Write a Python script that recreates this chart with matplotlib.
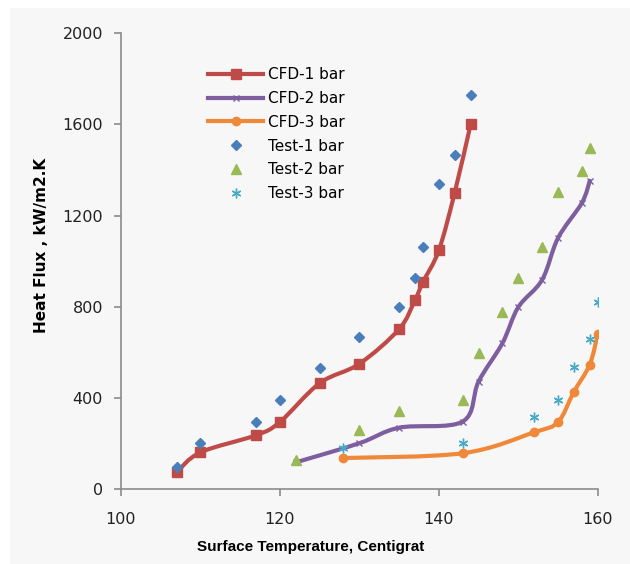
import matplotlib
matplotlib.use("Agg")
import matplotlib.pyplot as plt
from matplotlib.lines import Line2D
from matplotlib.patches import PathPatch, Rectangle
from matplotlib.path import Path
import numpy as np

# CFD results (smoothed lines with markers)
cfd1_t = [107, 110, 117, 120, 125, 130, 135, 137, 138, 140, 142, 144]
cfd1_q = [75, 162, 237, 295, 465, 550, 702, 829, 908, 1047, 1300, 1599]
cfd2_t = [122, 130, 135, 143, 145, 148, 150, 153, 155, 158, 159]
cfd2_q = [118, 202, 270, 297, 472, 640, 798, 918, 1101, 1255, 1352]
cfd3_t = [128, 143, 152, 155, 157, 159, 160]
cfd3_q = [137, 158, 250, 295, 427, 547, 680]

# measured points
test1_t = [107, 110, 117, 120, 125, 130, 135, 137, 138, 140, 142, 144]
test1_q = [96, 202, 295, 393, 533, 667, 798, 928, 1061, 1336, 1466, 1729]
test2_t = [122, 130, 135, 143, 145, 148, 150, 153, 155, 158, 159]
test2_q = [128, 260, 343, 392, 596, 779, 928, 1060, 1304, 1396, 1497]
test3_t = [128, 143, 152, 155, 157, 159, 160]
test3_q = [180, 202, 316, 393, 535, 658, 820]

x_ticks = [100, 120, 140, 160]
y_ticks = [0, 400, 800, 1200, 1600, 2000]


def smooth_path(xs, ys):
    """Catmull-Rom curve through the points as cubic Bezier segments (like Excel's smoothed line)."""
    pts = np.column_stack([xs, ys]).astype(float)
    verts = [pts[0]]
    codes = [Path.MOVETO]
    n = len(pts)
    for i in range(n - 1):
        p0 = pts[max(i - 1, 0)]
        p1 = pts[i]
        p2 = pts[i + 1]
        p3 = pts[min(i + 2, n - 1)]
        c1 = p1 + (p2 - p0) / 6.0
        c2 = p2 - (p3 - p1) / 6.0
        verts += [c1, c2, p2]
        codes += [Path.CURVE4] * 3
    return Path(verts, codes)


fig = plt.figure(figsize=(6.3, 5.64), dpi=100)
fig.patch.set_facecolor("white")
fig.patches.append(Rectangle((10 / 630, -0.01), 1.0, 556 / 564 + 0.01, transform=fig.transFigure,
                             facecolor="#f7f7f7", edgecolor="none", zorder=-10))

ax = fig.add_axes([121 / 630, 1 - 489.3 / 564, (597.7 - 121) / 630, (489.3 - 33) / 564])
ax.set_facecolor("none")

red, purple, orange = "#be4b48", "#7d5fa0", "#f0883a"
blue, green, cyan = "#4a7ebb", "#98b954", "#46aac5"

cfd = [
    (cfd1_t, cfd1_q, red, "s", 6.5, "CFD-1 bar"),
    (cfd2_t, cfd2_q, purple, "x", 5, "CFD-2 bar"),
    (cfd3_t, cfd3_q, orange, "o", 6, "CFD-3 bar"),
]
handles = []
for t, q, col, mk, ms, lab in cfd:
    ax.add_patch(PathPatch(smooth_path(t, q), facecolor="none", edgecolor=col,
                           lw=3, capstyle="round", joinstyle="round", zorder=2))
    ax.plot(t, q, linestyle="none", marker=mk, ms=ms, color=col, mec=col, mew=1, zorder=3)
    handles.append(Line2D([], [], color=col, lw=3, marker=mk, ms=ms, mew=1, label=lab))

tests = [
    (test1_t, test1_q, blue, "D", 5, "Test-1 bar"),
    (test2_t, test2_q, green, "^", 6.5, "Test-2 bar"),
    (test3_t, test3_q, cyan, (6, 2, 0), 7, "Test-3 bar"),
]
for t, q, col, mk, ms, lab in tests:
    ax.plot(t, q, linestyle="none", marker=mk, ms=ms, color=col, mec=col, mew=1, zorder=4)
    handles.append(Line2D([], [], linestyle="none", marker=mk, ms=ms, color=col,
                          mec=col, mew=1, label=lab))

ax.set_xlim(100, 160)
ax.set_ylim(0, 2000)
ax.set_xticks(x_ticks)
ax.set_yticks(y_ticks)
for side in ("top", "right"):
    ax.spines[side].set_visible(False)
for side in ("left", "bottom"):
    ax.spines[side].set_color("#8c8c8c")
    ax.spines[side].set_linewidth(1.2)
ax.tick_params(axis="both", direction="out", length=5, width=1.2, color="#8c8c8c",
               labelsize=11.5, labelcolor="#222222")
ax.tick_params(axis="y", pad=8)
ax.tick_params(axis="x", pad=11)

fig.text(311 / 630, 1 - 547 / 564, "Surface Temperature, Centigrat", ha="center", va="center",
         fontsize=11, fontweight="bold", family=["Liberation Sans", "DejaVu Sans"])
fig.text(42 / 630, 1 - 245 / 564, "Heat Flux , kW/m2.K", ha="center", va="center",
         rotation=90, fontsize=11, fontweight="bold")

ax.legend(handles=handles, loc="upper left", bbox_to_anchor=(208 / 630, 1 - 67 / 564),
          bbox_transform=fig.transFigure, frameon=False, fontsize=11, handlelength=3.6,
          handletextpad=0.35, labelspacing=0.58, borderpad=0, borderaxespad=0)

fig.savefig("out.png", dpi=100)
